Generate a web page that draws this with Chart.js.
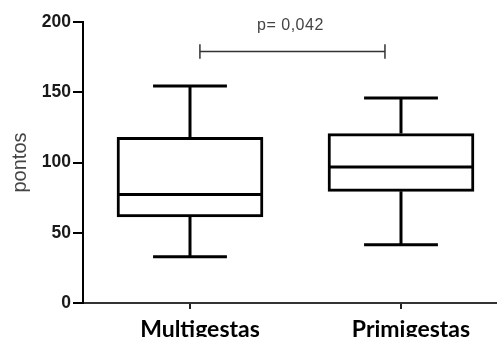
<!DOCTYPE html>
<html><head><meta charset="utf-8">
<script src="https://cdn.jsdelivr.net/npm/chart.js@4.4.0/dist/chart.umd.min.js"></script>
<style>html,body{margin:0;padding:0;background:#fff}#wrap{width:497px;height:337px;position:relative}</style>
</head><body><div id="wrap"><canvas id="c"></canvas></div>
<script>
// ---- data ----
const categories = ['Multigestas', 'Primigestas'];
const whiskerMin = [33, 41.5];
const q1 = [61.2, 79.5];
const median = [77.2, 96.8];
const q3 = [117.9, 120.6];
const whiskerMax = [154.4, 145.9];
const yTicks = [0, 50, 100, 150, 200];
const pLabel = 'p= 0,042';
const bracketValue = 179;
const bracketFrom = 1.047;   // bracket ends in category units
const bracketTo = 1.924;

// ---- geometry helpers (category index -> x value 1,2) ----
const BOX_HALF = 0.339;
const CAP_HALF = 0.175;
const xs = categories.map((_, i) => i + 1);
const gap = {x: 1.5, y: null};

const boxData = xs.map((x, i) => ({x: x, y: [q1[i], q3[i]]}));
const medianData = [];
const whiskerData = [];
xs.forEach((x, i) => {
  medianData.push({x: x - BOX_HALF, y: median[i]}, {x: x + BOX_HALF, y: median[i]}, gap);
  whiskerData.push({x: x, y: q3[i]}, {x: x, y: whiskerMax[i]}, gap);
  whiskerData.push({x: x - CAP_HALF, y: whiskerMax[i]}, {x: x + CAP_HALF, y: whiskerMax[i]}, gap);
  whiskerData.push({x: x, y: q1[i]}, {x: x, y: whiskerMin[i]}, gap);
  whiskerData.push({x: x - CAP_HALF, y: whiskerMin[i]}, {x: x + CAP_HALF, y: whiskerMin[i]}, gap);
});
const TICK_H = 5.2;
const bracketData = [
  {x: bracketFrom, y: bracketValue - TICK_H}, {x: bracketFrom, y: bracketValue + TICK_H}, gap,
  {x: bracketFrom, y: bracketValue}, {x: bracketTo, y: bracketValue}, gap,
  {x: bracketTo, y: bracketValue - TICK_H}, {x: bracketTo, y: bracketValue + TICK_H}
];

const pTextPlugin = {
  id: 'pText',
  afterDatasetsDraw(chart) {
    const {ctx, scales} = chart;
    const x = scales.x.getPixelForValue((bracketFrom + bracketTo) / 2);
    const y = scales.y.getPixelForValue(197.5);
    ctx.save();
    ctx.font = '16px "Liberation Sans", Arial, sans-serif';
    ctx.letterSpacing = '0.5px';
    ctx.fillStyle = '#444';
    ctx.textAlign = 'center';
    ctx.textBaseline = 'middle';
    ctx.fillText(pLabel, x - 2, y);
    ctx.restore();
  }
};

new Chart(document.getElementById('c'), {
  data: {
    datasets: [
      {type: 'bar', label: 'box', data: boxData, backgroundColor: '#fff', borderColor: '#000',
       borderWidth: 3, borderSkipped: false, barThickness: 146, order: 3},
      {type: 'line', label: 'mediana', data: medianData, borderColor: '#000', borderWidth: 3,
       pointRadius: 0, spanGaps: false, borderCapStyle: 'butt', order: 1},
      {type: 'line', label: 'bigodes', data: whiskerData, borderColor: '#000', borderWidth: 3,
       pointRadius: 0, spanGaps: false, borderCapStyle: 'butt', order: 2},
      {type: 'line', label: 'p', data: bracketData, borderColor: '#333', borderWidth: 1.5,
       pointRadius: 0, spanGaps: false, borderCapStyle: 'butt', order: 1}
    ]
  },
  options: {
    responsive: true, maintainAspectRatio: false, animation: false, devicePixelRatio: 1,
    layout: {padding: {top: 22, right: 0, left: 0, bottom: 0}},
    plugins: {legend: {display: false}, tooltip: {enabled: false}},
    scales: {
      x: {
        type: 'linear', min: 0.4929, max: 2.455, offset: false,
        afterBuildTicks: (s) => { s.ticks = xs.map(v => ({value: v})); },
        afterFit: (s) => { s.height = 34; },
        ticks: {callback: (v) => categories[v - 1] || '', color: '#000', padding: 7, labelOffset: 10,
                font: {family: 'Lato', weight: 'bold', size: 23}},
        grid: {drawOnChartArea: false, offset: false, tickLength: 6, color: '#222', lineWidth: 2},
        border: {color: '#333', width: 2}
      },
      y: {
        min: 0, max: 200,
        afterBuildTicks: (s) => { s.ticks = yTicks.map(v => ({value: v})); },
        afterFit: (s) => { s.width = 83; },
        ticks: {color: '#1a1a1a', padding: 2, font: {family: '"Liberation Sans", Arial', weight: 'bold', size: 17.5}},
        grid: {drawOnChartArea: false, tickLength: 10, color: '#000', lineWidth: 2},
        border: {color: '#000', width: 2},
        title: {display: true, text: 'pontos', color: '#444', padding: {top: 8, bottom: 0},
                font: {family: '"Liberation Sans", Arial', size: 20}}
      }
    }
  },
  plugins: [pTextPlugin]
});
</script></body></html>
